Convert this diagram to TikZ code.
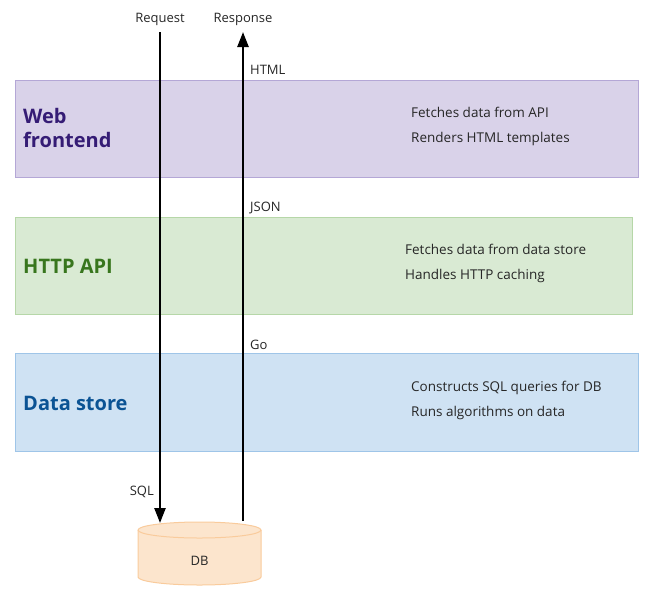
\documentclass[tikz,border=0pt]{standalone}
\usepackage{fontspec}
\setmainfont{Open Sans}
\usetikzlibrary{arrows.meta}
\definecolor{webfill}{HTML}{D9D2E9}\definecolor{webdraw}{HTML}{B4A7D6}\definecolor{webtxt}{HTML}{351C75}
\definecolor{apifill}{HTML}{D9EAD3}\definecolor{apidraw}{HTML}{B6D7A8}\definecolor{apitxt}{HTML}{38761D}
\definecolor{dsfill}{HTML}{CFE2F3}\definecolor{dsdraw}{HTML}{9FC5E8}\definecolor{dstxt}{HTML}{0B5394}
\definecolor{dbfill}{HTML}{FCE5CD}\definecolor{dbdraw}{HTML}{F9CB9C}
\begin{document}
\begin{tikzpicture}[x=1pt,y=-1pt,
  layer/.style={draw, line width=1pt, anchor=north west, inner sep=0pt},
  title/.style={anchor=base west, inner sep=0pt, font=\fontsize{20}{24}\selectfont\bfseries},
  desc/.style={anchor=base west, inner sep=0pt, font=\fontsize{13.5}{16}\selectfont, text=black!85},
  lbl/.style={inner sep=0pt, font=\fontsize{13}{15}\selectfont, text=black!85},
  flow/.style={line width=2.4pt, -{Triangle[width=11pt,length=15pt]}},
  dbshape/.style={draw=dbdraw, line width=1pt, fill=dbfill}]
\useasboundingbox (0,0) rectangle (651,598);
% layers
\node[layer, fill=webfill, draw=webdraw, minimum width=623pt, minimum height=97pt] (web) at (15,80) {};
\node[layer, fill=apifill, draw=apidraw, minimum width=617pt, minimum height=97pt] (api) at (15,217) {};
\node[layer, fill=dsfill, draw=dsdraw, minimum width=623pt, minimum height=98pt] (ds) at (15,353) {};
% titles
\node[title, text=webtxt] (webt1) at (23,123) {Web};
\node[title, text=webtxt] (webt2) at (23,147) {frontend};
\node[title, text=apitxt] (apit) at (23,273) {HTTP API};
\node[title, text=dstxt] (dst) at (23,410) {Data store};
% descriptions
\node[desc] (webd1) at (411,117) {Fetches data from API};
\node[desc] (webd2) at (411,142) {Renders HTML templates};
\node[desc] (apid1) at (405,254) {Fetches data from data store};
\node[desc] (apid2) at (405,279) {Handles HTTP caching};
\node[desc] (dsd1) at (411,391) {Constructs SQL queries for DB};
\node[desc] (dsd2) at (411,416) {Runs algorithms on data};
% DB cylinder
\path[dbshape] (138,530) -- (138,577) arc[start angle=180, end angle=0, x radius=61.5, y radius=8]
  -- (261,530) arc[start angle=0, end angle=-180, x radius=61.5, y radius=8] -- cycle;
\draw[draw=dbdraw, line width=1pt] (138,530) arc[start angle=180, end angle=0, x radius=61.5, y radius=8];
\node[inner sep=0pt, minimum width=123pt, minimum height=63pt] (db) at (199.5,553.5) {};
\node[lbl, anchor=base] (dbt) at (199.5,565) {DB};
% flow
\coordinate (reqs) at (160,32);
\coordinate (reqe) at (160,523);
\coordinate (ress) at (243,521);
\coordinate (rese) at (243,32);
\draw[flow] (reqs) -- (reqe);
\draw[flow] (ress) -- (rese);
\node[lbl, anchor=base] (reql) at (160,22) {Request};
\node[lbl, anchor=base] (resl) at (243,22) {Response};
\node[lbl, anchor=base west] (html) at (250,74) {HTML};
\node[lbl, anchor=base west] (json) at (250,211) {JSON};
\node[lbl, anchor=base west] (go) at (250,349) {Go};
\node[lbl, anchor=base east] (sql) at (154,495) {SQL};
\end{tikzpicture}
\end{document}
